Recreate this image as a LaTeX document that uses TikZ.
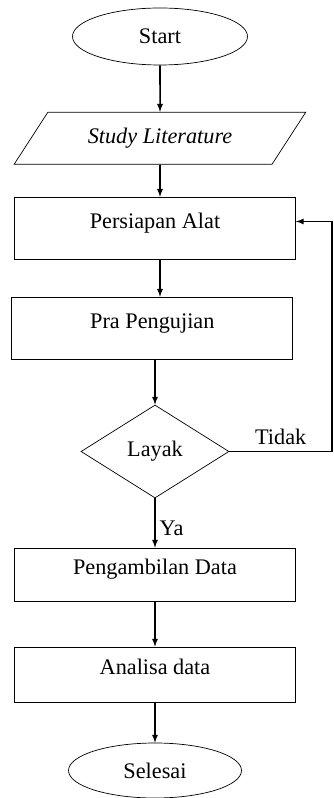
\documentclass[tikz,border=0pt]{standalone}
\usepackage{fontspec}
\setmainfont{Liberation Serif}
\usetikzlibrary{shapes,arrows,positioning,shapes.geometric}

\begin{document}
\begin{tikzpicture}[
    font=\fontsize{19}{23}\selectfont,
    terminal/.style={ellipse, draw, semithick, minimum width=5.25cm, minimum height=1.71cm, inner sep=0pt},
    io/.style={trapezium, draw, semithick, trapezium left angle=43, trapezium right angle=137, trapezium stretches=true, minimum width=8.76cm, minimum height=1.56cm, inner sep=0pt},
    block/.style={rectangle, draw, semithick, minimum width=8.43cm, minimum height=1.86cm, text height=0.45cm, text depth=0.45cm},
    decision/.style={diamond, draw, semithick, aspect=1.6, minimum width=4.44cm, minimum height=2.79cm, inner sep=0pt},
    line/.style={draw, -latex, line width=1.3pt}
]
\useasboundingbox (-4.65,1.095) rectangle (5.34,-22.845);

\node [terminal, xshift=0.15cm] (start) {Start};
\node [io, below of=start, node distance=3.05cm] (literatur) {\textit{Study Literature}};
\node [block, below of=literatur, xshift=-0.15cm, node distance=2.7cm] (persiapan) {Persiapan Alat};
\node [block, below of=persiapan, xshift=-0.08cm, node distance=3cm] (prauji) {Pra Pengujian};
\node [decision, below of=prauji, xshift=0.08cm, node distance=3.7cm] (layak) {Layak};
\node [block, below of=layak, node distance=3.69cm, minimum height=1.59cm] (ambil) {Pengambilan Data};
\node [block, below of=ambil, node distance=3cm, minimum height=1.65cm] (analisa) {Analisa data};
\node [terminal, below of=analisa, node distance=2.88cm, minimum width=5.19cm, minimum height=1.65cm] (selesai) {Selesai};

\path [line] (start) -- (literatur);
\path [line] (literatur) -- (literatur |- persiapan.north);
\path [line] (persiapan.south -| literatur) -- (literatur |- prauji.north);
\path [line] (prauji.south -| layak) -- (layak);
\path [line] (layak) -- node[right, yshift=-0.15cm] {Ya} (ambil);
\path [line] (layak.east) -- node[above, yshift=2pt] {Tidak} ++(3.08cm,0) |- ([yshift=0.2cm]persiapan.east);
\path [line] (ambil) -- (analisa);
\path [line] (analisa) -- (selesai);

\end{tikzpicture}
\end{document}
